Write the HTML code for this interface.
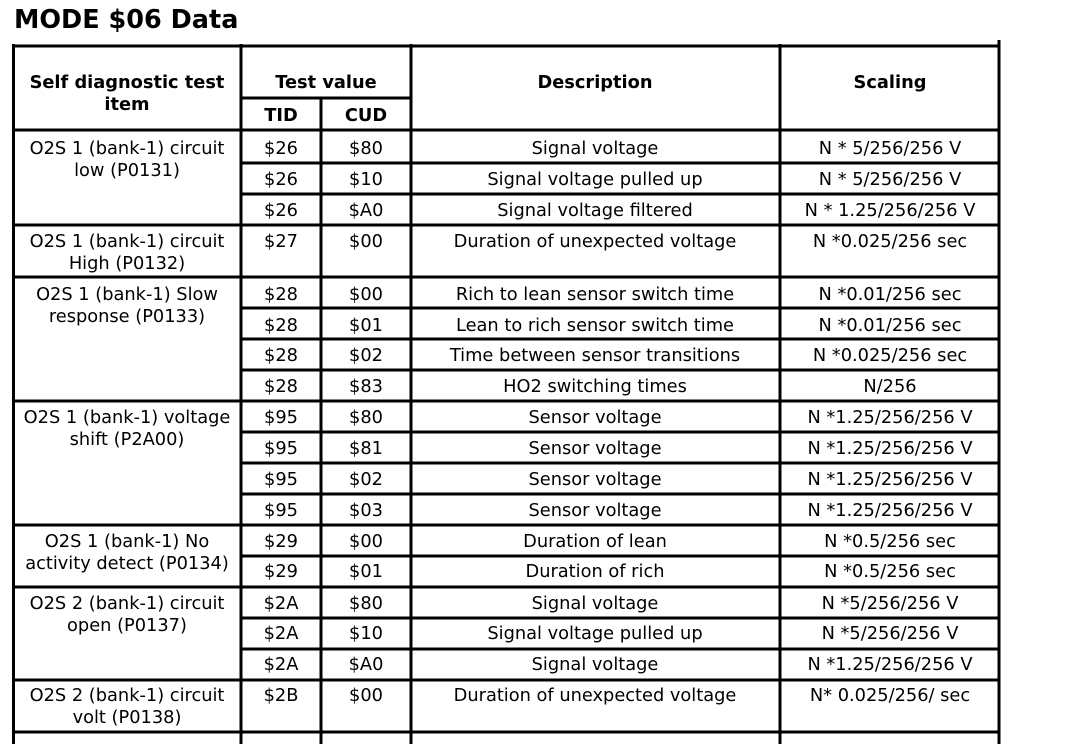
<!DOCTYPE html>
<html><head><style>
html,body{margin:0;padding:0;background:#fff;}
svg{display:block}
text{font-family:"DejaVu Sans","Liberation Sans",sans-serif;font-size:17.8px;fill:#000;text-anchor:middle}
.b{font-weight:bold;font-size:17.8px}
</style></head><body>
<svg width="1072" height="744" viewBox="0 0 1072 744" xmlns="http://www.w3.org/2000/svg">
<text x="14" y="28" class="b" style="font-size:25.5px;text-anchor:start">MODE $06 Data</text>
<g stroke="#000" stroke-width="3">
<line x1="12" y1="46" x2="1000" y2="46"/>
<line x1="13.5" y1="44" x2="13.5" y2="744"/>
<line x1="241" y1="44" x2="241" y2="744"/>
<line x1="321" y1="98" x2="321" y2="744"/>
<line x1="411" y1="44" x2="411" y2="744"/>
<line x1="780" y1="44" x2="780" y2="744"/>
<line x1="999" y1="40" x2="999" y2="744"/>
<line x1="241" y1="98" x2="411" y2="98"/>
<line x1="12" y1="130" x2="1000" y2="130"/>
<line x1="241" y1="163" x2="1000" y2="163"/>
<line x1="241" y1="194" x2="1000" y2="194"/>
<line x1="12" y1="225" x2="1000" y2="225"/>
<line x1="12" y1="277" x2="1000" y2="277"/>
<line x1="241" y1="308" x2="1000" y2="308"/>
<line x1="241" y1="339" x2="1000" y2="339"/>
<line x1="241" y1="370" x2="1000" y2="370"/>
<line x1="12" y1="401" x2="1000" y2="401"/>
<line x1="241" y1="432" x2="1000" y2="432"/>
<line x1="241" y1="463" x2="1000" y2="463"/>
<line x1="241" y1="494" x2="1000" y2="494"/>
<line x1="12" y1="525" x2="1000" y2="525"/>
<line x1="241" y1="556" x2="1000" y2="556"/>
<line x1="12" y1="587" x2="1000" y2="587"/>
<line x1="241" y1="618" x2="1000" y2="618"/>
<line x1="241" y1="649" x2="1000" y2="649"/>
<line x1="12" y1="680" x2="1000" y2="680"/>
<line x1="12" y1="732" x2="1000" y2="732"/>
</g>
<text class="b" x="127" y="88">Self diagnostic test</text>
<text class="b" x="127" y="110">item</text>
<text class="b" x="326" y="88">Test value</text>
<text class="b" x="281" y="121">TID</text>
<text class="b" x="366" y="121">CUD</text>
<text class="b" x="595" y="88">Description</text>
<text class="b" x="890" y="88">Scaling</text>

<text x="127" y="154">O2S 1 (bank-1) circuit</text>
<text x="127" y="176">low (P0131)</text>
<text x="127" y="247">O2S 1 (bank-1) circuit</text>
<text x="127" y="269">High (P0132)</text>
<text x="127" y="300">O2S 1 (bank-1) Slow</text>
<text x="127" y="322">response (P0133)</text>
<text x="127" y="423">O2S 1 (bank-1) voltage</text>
<text x="127" y="445">shift (P2A00)</text>
<text x="127" y="547">O2S 1 (bank-1) No</text>
<text x="127" y="569">activity detect (P0134)</text>
<text x="127" y="609">O2S 2 (bank-1) circuit</text>
<text x="127" y="631">open (P0137)</text>
<text x="127" y="701">O2S 2 (bank-1) circuit</text>
<text x="127" y="723">volt (P0138)</text>

<g>
<text x="281" y="154">$26</text><text x="366" y="154">$80</text><text x="595" y="154">Signal voltage</text><text x="890" y="154">N * 5/256/256 V</text>
<text x="281" y="185">$26</text><text x="366" y="185">$10</text><text x="595" y="185">Signal voltage pulled up</text><text x="890" y="185">N * 5/256/256 V</text>
<text x="281" y="216">$26</text><text x="366" y="216">$A0</text><text x="595" y="216">Signal voltage filtered</text><text x="890" y="216">N * 1.25/256/256 V</text>
<text x="281" y="247">$27</text><text x="366" y="247">$00</text><text x="595" y="247">Duration of unexpected voltage</text><text x="890" y="247">N *0.025/256 sec</text>
<text x="281" y="300">$28</text><text x="366" y="300">$00</text><text x="595" y="300">Rich to lean sensor switch time</text><text x="890" y="300">N *0.01/256 sec</text>
<text x="281" y="331">$28</text><text x="366" y="331">$01</text><text x="595" y="331">Lean to rich sensor switch time</text><text x="890" y="331">N *0.01/256 sec</text>
<text x="281" y="361">$28</text><text x="366" y="361">$02</text><text x="595" y="361">Time between sensor transitions</text><text x="890" y="361">N *0.025/256 sec</text>
<text x="281" y="392">$28</text><text x="366" y="392">$83</text><text x="595" y="392">HO2 switching times</text><text x="890" y="392">N/256</text>
<text x="281" y="423">$95</text><text x="366" y="423">$80</text><text x="595" y="423">Sensor voltage</text><text x="890" y="423">N *1.25/256/256 V</text>
<text x="281" y="454">$95</text><text x="366" y="454">$81</text><text x="595" y="454">Sensor voltage</text><text x="890" y="454">N *1.25/256/256 V</text>
<text x="281" y="485">$95</text><text x="366" y="485">$02</text><text x="595" y="485">Sensor voltage</text><text x="890" y="485">N *1.25/256/256 V</text>
<text x="281" y="516">$95</text><text x="366" y="516">$03</text><text x="595" y="516">Sensor voltage</text><text x="890" y="516">N *1.25/256/256 V</text>
<text x="281" y="547">$29</text><text x="366" y="547">$00</text><text x="595" y="547">Duration of lean</text><text x="890" y="547">N *0.5/256 sec</text>
<text x="281" y="577">$29</text><text x="366" y="577">$01</text><text x="595" y="577">Duration of rich</text><text x="890" y="577">N *0.5/256 sec</text>
<text x="281" y="609">$2A</text><text x="366" y="609">$80</text><text x="595" y="609">Signal voltage</text><text x="890" y="609">N *5/256/256 V</text>
<text x="281" y="639">$2A</text><text x="366" y="639">$10</text><text x="595" y="639">Signal voltage pulled up</text><text x="890" y="639">N *5/256/256 V</text>
<text x="281" y="670">$2A</text><text x="366" y="670">$A0</text><text x="595" y="670">Signal voltage</text><text x="890" y="670">N *1.25/256/256 V</text>
<text x="281" y="701">$2B</text><text x="366" y="701">$00</text><text x="595" y="701">Duration of unexpected voltage</text><text x="890" y="701">N* 0.025/256/ sec</text>
</g>
</svg>
</body></html>
